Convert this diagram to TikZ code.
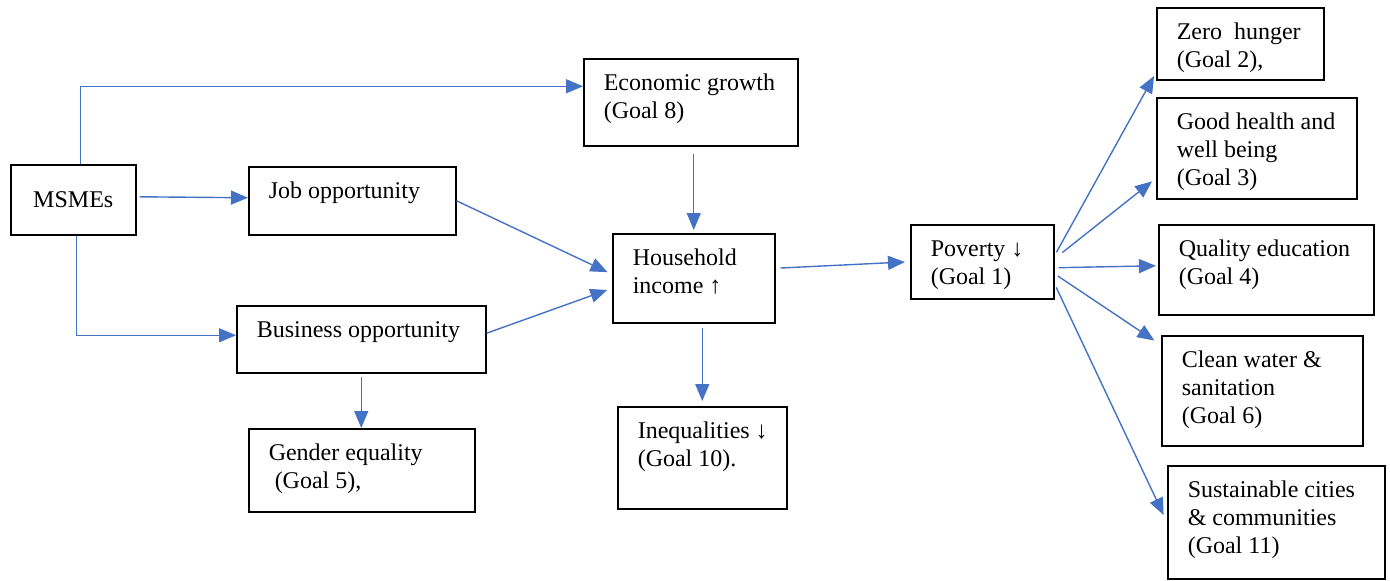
\documentclass[tikz,border=0pt]{standalone}
\usepackage{fontspec}
\setmainfont{Liberation Serif}
\usetikzlibrary{arrows.meta}

\definecolor{arrowblue}{RGB}{68,114,196}

\tikzset{
  goal/.style 2 args={draw=black, line width=0.75pt, anchor=north west,
    inner xsep=0pt, inner ysep=6pt,
    execute at begin node={\begin{minipage}[t][#2][t]{#1}\raggedright\leftskip=10pt\strut},
    execute at end node={\end{minipage}}},
  flow/.style={draw=arrowblue, line width=0.7pt, -{Triangle[length=8.5pt,width=7pt]}},
}

\begin{document}
\begin{tikzpicture}[x=0.5pt,y=-0.5pt,font=\fontsize{12}{14}\selectfont]
\useasboundingbox (0,0) rectangle (1390,580);

% left part
\node[draw=black, line width=0.75pt, anchor=north west, minimum width=62.5pt, minimum height=35pt] (msme) at (10,164) {MSMEs};
\node[goal={103.5pt}{22pt}] (job) at (248,166) {Job opportunity};
\node[goal={124.5pt}{21.5pt}] (bus) at (236,305) {Business opportunity};
\node[goal={113pt}{29.5pt}] (gen) at (248,428) {Gender equality\\\ (Goal 5),};

% middle part
\node[goal={107pt}{31.5pt}] (eco) at (583,58) {Economic growth\\(Goal 8)};
\node[goal={81pt}{32.5pt}] (hh) at (612,233) {Household\\income ↑};
\node[goal={84.5pt}{39pt}] (ineq) at (617,406) {Inequalities ↓\\(Goal 10).};
\node[goal={71.5pt}{25pt}] (pov) at (910,224) {Poverty ↓\\(Goal 1)};

% goals on the right
\node[goal={83.5pt}{24pt}] (zero) at (1156,7) {Zero~ hunger\\(Goal 2),};
\node[goal={100pt}{38.5pt}] (health) at (1156,97) {Good health and\\well being\\(Goal 3)};
\node[goal={107.5pt}{33pt}] (edu) at (1158,224) {Quality education\\(Goal 4)};
\node[goal={100.5pt}{43pt}] (water) at (1161,335) {Clean water \&\\sanitation\\(Goal 6)};
\node[goal={108.5pt}{44.5pt}] (city) at (1167,465) {Sustainable cities\\\& communities\\(Goal 11)};

% arrows from MSMEs
\draw[flow] ([xshift=3.5pt]msme.north) |- ([yshift=8pt]eco.west); %top
\draw[flow, shorten <=1.5pt] ([yshift=1.5pt]msme.east) -- ([yshift=1.5pt]job.west); %middle
\draw[flow] ([xshift=1.5pt]msme.south) |- ([yshift=2pt]bus.west); %bottom

% arrows into household income
\draw[flow, shorten >=2.5pt] (job.east) -- ([yshift=2pt]hh.west);
\draw[flow, shorten >=2.5pt] ([yshift=3pt]bus.east) -- ([yshift=-5pt]hh.west);
\draw[flow, shorten <=3.5pt, shorten >=1.5pt] (eco.south -| hh.north) -- (hh.north);
\draw[flow, shorten <=1.5pt] (bus.south) -- (bus.south |- gen.north);
\draw[flow, shorten <=2pt, shorten >=2.5pt] (hh.south -| ineq.north) -- (ineq.north);
\draw[flow, shorten <=2.5pt, shorten >=2.5pt] ([yshift=5pt]hh.east) -- (pov.west);

% arrows from poverty
\draw[flow, shorten <=2pt, shorten >=2pt] ([yshift=3pt]pov.east) -- ([yshift=4pt]zero.south west);
\draw[flow, shorten <=5pt, shorten >=2.5pt] ([yshift=1.5pt]pov.east) -- ([yshift=-15pt]health.west);
\draw[flow, shorten <=2pt, shorten >=1pt] ([yshift=-3pt]pov.east) -- ([yshift=2pt]edu.west);
\draw[flow, shorten <=2pt, shorten >=4pt] ([yshift=-6pt]pov.east) -- ([yshift=-5pt]water.north west);
\draw[flow, shorten <=2pt, shorten >=4pt] ([yshift=-11pt]pov.east) -- (city.west);
\end{tikzpicture}
\end{document}
